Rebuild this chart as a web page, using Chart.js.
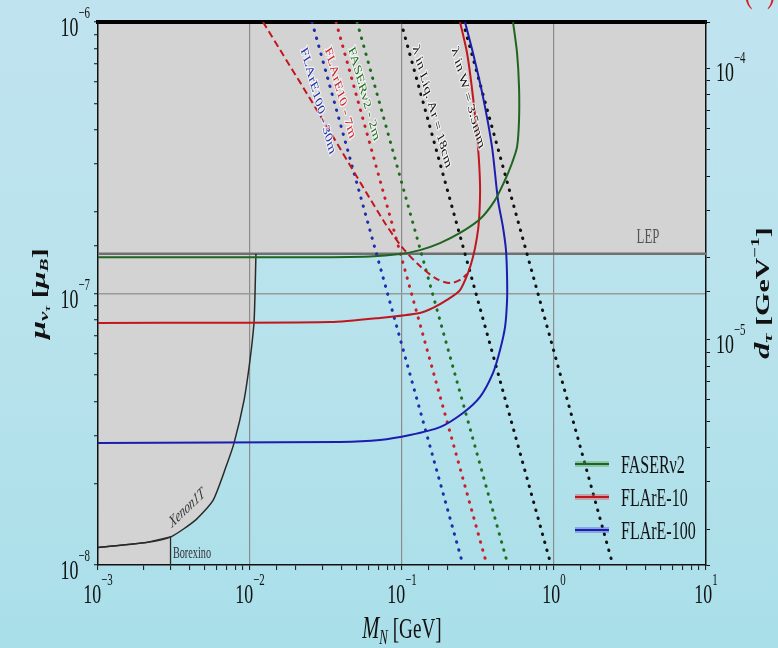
<!DOCTYPE html>
<html>
<head>
<meta charset="utf-8">
<script src="https://cdn.jsdelivr.net/npm/chart.js@4.4.1/dist/chart.umd.min.js"></script>
<style>
html,body{margin:0;padding:0;}
body{width:778px;height:648px;overflow:hidden;background:linear-gradient(180deg,#c0e4ef 0%,#b7e2ec 55%,#a9dfe9 100%);}
canvas{display:block;}
</style>
</head>
<body>
<canvas id="chart" width="778" height="648"></canvas>
<script>
// axes: M_N [GeV] (x), mu_nu_tau [mu_B] (left), d_tau [GeV^-1] (right)
const xTicks = [1e-3, 1e-2, 1e-1, 1, 10];
const xTickExp = ["−3", "−2", "−1", "0", "1"];
const yTicks = [1e-8, 1e-7, 1e-6];
const yTickExp = ["−8", "−7", "−6"];
const dTicks = [1e-5, 1e-4];
const dTickExp = ["−5", "−4"];
const muToD = 148;   // d_tau per mu_B

const seriesNames = ["FASERν2", "FLArE-10", "FLArE-100"];

// sensitivity curves (solid)
const faserMass = [0.001, 0.0213, 0.0615, 0.097, 0.1313, 0.1778, 0.2409, 0.3263, 0.4093, 0.4764, 0.5297, 0.5714, 0.5888, 0.5888, 0.5714, 0.5375];
const faserMu   = [1.36e-7, 1.36e-7, 1.37e-7, 1.397e-7, 1.445e-7, 1.534e-7, 1.671e-7, 1.88e-7, 2.208e-7, 2.618e-7, 3.025e-7, 3.466e-7, 4.357e-7, 5.763e-7, 7.69e-7, 1e-6];

const flare10Mass = [0.001, 0.0336, 0.0716, 0.1313, 0.160, 0.1977, 0.2409, 0.2718, 0.2931, 0.3115, 0.3212, 0.3263, 0.3162, 0.2931, 0.2679, 0.2409];
const flare10Mu   = [7.79e-8, 7.85e-8, 8.13e-8, 8.48e-8, 8.85e-8, 9.47e-8, 1.03e-7, 1.19e-7, 1.362e-7, 1.614e-7, 1.866e-7, 2.467e-7, 3.466e-7, 5.296e-7, 7.69e-7, 1e-6];

const flare100Mass = [0.001, 0.0391, 0.0716, 0.1129, 0.1778, 0.2519, 0.3263, 0.3972, 0.4416, 0.4764, 0.4912, 0.4912, 0.4832, 0.4614, 0.4281, 0.3911, 0.3411, 0.2931, 0.2597];
const flare100Mu   = [2.814e-8, 2.84e-8, 2.886e-8, 3.01e-8, 3.22e-8, 3.63e-8, 4.16e-8, 5.10e-8, 6.19e-8, 7.53e-8, 9.47e-8, 1.151e-7, 1.445e-7, 1.758e-7, 2.208e-7, 3.466e-7, 5.30e-7, 7.69e-7, 1e-6];

// FLArE-10 dashed variant
const flare10dMass = [0.01218, 0.0302, 0.0750, 0.1, 0.1313, 0.1698, 0.2070, 0.2409, 0.2679];
const flare10dMu   = [1e-6, 4.357e-7, 1.866e-7, 1.483e-7, 1.262e-7, 1.13e-7, 1.093e-7, 1.122e-7, 1.18e-7];

// decay length lines (dotted), from mu=1e-6 down to mu=1e-8
const decayNames = ["FLArE100 - 30m", "FLArE10 - 7m", "FASERν2 - 2m", "λ in Liq. Ar = 18cm", "λ in W = 3.5mm"];
const decayTopMass = [0.0256, 0.0368, 0.0506, 0.0984, 0.252];
const decayBottomMass = [0.252, 0.362, 0.498, 0.956, 2.44];
const decayMu = [1e-6, 1e-8];

// existing bounds
const lepMu = 1.40e-7;
const xenonMass = [0.001, 0.00207, 0.00302, 0.00442, 0.00571, 0.00695, 0.00785, 0.00914, 0.01, 0.01062, 0.01079, 0.01094];
const xenonMu   = [1.16e-8, 1.21e-8, 1.27e-8, 1.47e-8, 1.73e-8, 2.30e-8, 2.81e-8, 4.05e-8, 5.69e-8, 7.79e-8, 1.0e-7, 1.40e-7];
const borexinoMass = [0.001, 0.00207, 0.003, 0.003];
const borexinoMu   = [1.16e-8, 1.21e-8, 1.27e-8, 1e-8];

const zip = (xs, ys) => xs.map((x, i) => ({x, y: ys[i]}));

const GREEN = "#1f6420", RED = "#c0161e", BLUE = "#1c1cae", GRAY = "#d3d3d3";
const decayColors = ["#1e2ea8", "#c8202a", "#1f6e1f", "#111111", "#111111"];
const SERIF = '"Liberation Serif", "DejaVu Serif", serif';
const SX = 0.64;  // text in the figure is squeezed horizontally

function line(data, color, extra) {
  return Object.assign({data, borderColor: color, backgroundColor: "rgba(0,0,0,0)", borderWidth: 2,
    pointRadius: 0, fill: false, tension: 0.25}, extra || {});
}

const datasets = [
  line(zip(faserMass, faserMu), GREEN),
  line(zip(flare10Mass, flare10Mu), RED),
  line(zip(flare100Mass, flare100Mu), BLUE),
  line(zip(flare10dMass, flare10dMu), RED, {borderDash: [7, 4], tension: 0.3})
];
decayNames.forEach((n, i) => {
  datasets.push(line([{x: decayTopMass[i], y: decayMu[0]}, {x: decayBottomMass[i], y: decayMu[1]}], decayColors[i],
    {borderWidth: 3, borderDash: [0.5, 7.8], borderCapStyle: "round", tension: 0}));
});
datasets.push(line(zip(xenonMass, xenonMu), "#2a2a2a", {borderWidth: 1.5, fill: "end", backgroundColor: GRAY, tension: 0.2}));
datasets.push(line(zip(borexinoMass, borexinoMu), "#2a2a2a", {borderWidth: 1.3, fill: "start", backgroundColor: GRAY, tension: 0}));
datasets.push(line([{x: 1e-3, y: lepMu}, {x: 10, y: lepMu}], "#707070", {borderWidth: 2.5, fill: "end", backgroundColor: GRAY, tension: 0}));

const isDecade = v => Math.abs(Math.log10(v) - Math.round(Math.log10(v))) < 1e-6;

function richText(ctx, parts, x, y, opt) {
  opt = opt || {};
  ctx.save();
  ctx.translate(x, y);
  ctx.scale(SX, 1);
  ctx.rotate(opt.angle || 0);
  ctx.textBaseline = opt.baseline || "alphabetic";
  let w = 0;
  parts.forEach(p => {
    p.font = (p.style || "") + " " + p.size + "px " + SERIF;
    ctx.font = p.font;
    p.w = ctx.measureText(p.t).width;
    w += p.w;
  });
  let cx = opt.align === "center" ? -w / 2 : opt.align === "right" ? -w : 0;
  parts.forEach(p => {
    ctx.font = p.font;
    if (opt.halo) {
      ctx.strokeStyle = opt.halo; ctx.lineWidth = 3; ctx.lineJoin = "round";
      ctx.strokeText(p.t, cx, p.dy || 0);
    }
    ctx.fillStyle = p.color || opt.color || "#111";
    ctx.fillText(p.t, cx, p.dy || 0);
    cx += p.w;
  });
  ctx.restore();
}

// squeeze-corrected rotation for a direction given in screen pixels
const textAngle = (dx, dy) => Math.atan2(dy, dx / SX);

const labelPlugin = {
  id: "labels",
  afterDraw(chart) {
    const ctx = chart.ctx;
    const sx = chart.scales.x, sy = chart.scales.y, sd = chart.scales.yRight;
    const a = chart.chartArea;

    xTicks.forEach((v, i) => richText(ctx, [{t: "10", size: 28}, {t: xTickExp[i], size: 17, dy: -18}],
      sx.getPixelForValue(v), a.bottom + 38, {align: "center"}));
    yTicks.forEach((v, i) => richText(ctx, [{t: "10", size: 28}, {t: yTickExp[i], size: 17, dy: -18}],
      a.left - 8, sy.getPixelForValue(v) + 14, {align: "right"}));
    dTicks.forEach((v, i) => richText(ctx, [{t: "10", size: 28}, {t: dTickExp[i], size: 17, dy: -18}],
      a.right + 10, sd.getPixelForValue(v) + 13, {align: "left"}));

    // axis titles
    richText(ctx, [{t: "M", size: 32, style: "italic"}, {t: "N", size: 20, style: "italic", dy: 6}, {t: " [GeV]", size: 30}],
      (a.left + a.right) / 2, 638, {align: "center"});
    richText(ctx, [{t: "μ", size: 32, style: "italic bold"}, {t: "ν", size: 21, style: "italic bold", dy: 7},
      {t: "τ", size: 13, style: "italic bold", dy: 12}, {t: " [", size: 30, style: "bold"},
      {t: "μ", size: 30, style: "italic bold"}, {t: "B", size: 20, style: "italic bold", dy: 7}, {t: "]", size: 30, style: "bold"}],
      40, (a.top + a.bottom) / 2, {align: "center", angle: -Math.PI / 2, baseline: "middle"});
    richText(ctx, [{t: "d", size: 32, style: "italic bold"}, {t: "τ", size: 21, style: "italic bold", dy: 7},
      {t: " [GeV", size: 30, style: "bold"}, {t: "−1", size: 19, style: "bold", dy: -12}, {t: "]", size: 30, style: "bold"}],
      764, 293, {align: "center", angle: -Math.PI / 2, baseline: "middle"});

    // decay-length labels along the dotted lines
    const labelMass = [0.0280, 0.0391, 0.0562, 0.1574, 0.2716];
    const labelMu = [5.12e-7, 5.48e-7, 5.43e-7, 4.87e-7, 5.25e-7];
    decayNames.forEach((n, i) => {
      const x0 = sx.getPixelForValue(decayTopMass[i]), y0 = sy.getPixelForValue(decayMu[0]);
      const x1 = sx.getPixelForValue(decayBottomMass[i]), y1 = sy.getPixelForValue(decayMu[1]);
      richText(ctx, [{t: n, size: 16.5}], sx.getPixelForValue(labelMass[i]), sy.getPixelForValue(labelMu[i]),
        {align: "center", baseline: "middle", angle: textAngle(x1 - x0, y1 - y0), color: decayColors[i], halo: "rgba(255,255,255,0.7)"});
    });

    richText(ctx, [{t: "LEP", size: 20}], sx.getPixelForValue(4.15), sy.getPixelForValue(1.60e-7),
      {align: "center", baseline: "middle", color: "#555"});
    richText(ctx, [{t: "Xenon1T", size: 17, style: "italic"}], sx.getPixelForValue(0.00385), sy.getPixelForValue(1.62e-8),
      {align: "center", baseline: "middle", angle: textAngle(42, -40), color: "#333"});
    richText(ctx, [{t: "Borexino", size: 16}], sx.getPixelForValue(0.00311), sy.getPixelForValue(1.064e-8),
      {align: "left", color: "#333"});

    // legend
    const legendColors = [GREEN, RED, BLUE];
    const legendFaint = ["rgba(90,170,90,0.45)", "rgba(220,90,90,0.45)", "rgba(90,90,220,0.45)"];
    seriesNames.forEach((n, i) => {
      const y = 464 + i * 33;
      ctx.save();
      ctx.lineCap = "butt";
      ctx.strokeStyle = legendFaint[i]; ctx.lineWidth = 6;
      ctx.beginPath(); ctx.moveTo(575, y); ctx.lineTo(609, y); ctx.stroke();
      ctx.strokeStyle = legendColors[i]; ctx.lineWidth = 2;
      ctx.beginPath(); ctx.moveTo(575, y); ctx.lineTo(609, y); ctx.stroke();
      ctx.restore();
      richText(ctx, [{t: n, size: 25}], 621, y + 9, {color: "#111"});
    });

    // cut-off caption at the top edge
    richText(ctx, [{t: "(", size: 40}], 744, 1, {color: "#d42020"});
    richText(ctx, [{t: ")", size: 40}], 767, 1, {color: "#d42020"});
  }
};

new Chart(document.getElementById("chart"), {
  type: "line",
  data: {datasets},
  options: {
    responsive: false,
    devicePixelRatio: 1,
    animation: false,
    layout: {padding: 0},
    plugins: {legend: {display: false}, tooltip: {enabled: false}, filler: {drawTime: "beforeDraw"}},
    scales: {
      x: {
        type: "logarithmic", position: "bottom", min: 1e-3, max: 10,
        afterFit: s => { s.height = 83; },
        ticks: {display: false, autoSkip: false},
        grid: {color: c => (c.tick && isDecade(c.tick.value) && c.tick.value > 1.5e-3 && c.tick.value < 9) ? "#8c8c8c" : "rgba(0,0,0,0)",
          lineWidth: 1.2, tickLength: 5, tickColor: "#111", tickWidth: 1},
        border: {color: "#111", width: 1.5}
      },
      xTop: {
        axis: "x", type: "logarithmic", position: "top", min: 1e-3, max: 10,
        afterFit: s => { s.height = 22; },
        ticks: {display: false}, grid: {display: false},
        border: {color: "#000", width: 4}
      },
      y: {
        type: "logarithmic", position: "left", min: 1e-8, max: 1e-6,
        afterFit: s => { s.width = 98; },
        ticks: {display: false, autoSkip: false},
        grid: {color: c => (c.tick && isDecade(c.tick.value) && c.tick.value > 1.5e-8 && c.tick.value < 9e-7) ? "#9a9a9a" : "rgba(0,0,0,0)",
          lineWidth: 1.5, tickLength: 4, tickColor: "#111", tickWidth: 1},
        border: {color: "#111", width: 1.5}
      },
      yRight: {
        axis: "y", type: "logarithmic", position: "right", min: 1e-8 * muToD, max: 1e-6 * muToD,
        afterFit: s => { s.width = 72; },
        ticks: {display: false, autoSkip: false},
        grid: {drawOnChartArea: false, tickLength: 4, tickColor: "#111", tickWidth: 1},
        border: {color: "#111", width: 1.5}
      }
    }
  },
  plugins: [labelPlugin]
});
</script>
</body>
</html>
